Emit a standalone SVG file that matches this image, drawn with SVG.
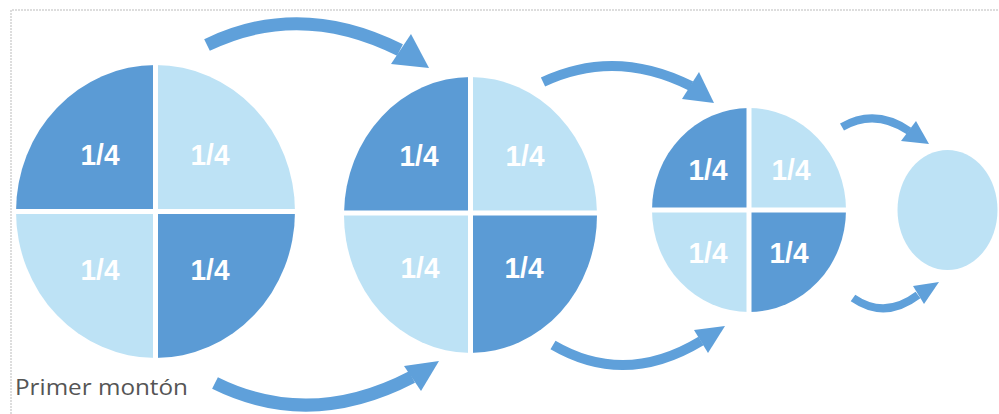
<svg xmlns="http://www.w3.org/2000/svg" width="999" height="414" viewBox="0 0 999 414">
<style>
.dk{fill:#5b9bd5}
.lt{fill:#bde2f5}
.gap{stroke:#fff;stroke-width:5}
.lbl{font-family:"Liberation Sans",Arial,sans-serif;font-weight:bold;font-size:29px;fill:#fff;text-anchor:middle}
.sh{fill:none;stroke:#5fa0da;stroke-linecap:butt}
.hd{fill:#5fa0da}
.frame{stroke:#bbbbbb;stroke-width:1;stroke-dasharray:2 1;fill:none}
.cap{font-family:"Open Sans","Noto Sans",sans-serif;font-size:21px;fill:#555}
</style>
<rect width="999" height="414" fill="#fff"/>
<path class="frame" d="M11,414 V10 H999"/>

<g id="pile1">
<path class="dk" d="M155.5,211.5 L16,211.5 A139.5,146.5 0 0 1 155.5,65 Z"/>
<path class="lt" d="M155.5,211.5 L155.5,65 A139.5,146.5 0 0 1 295,211.5 Z"/>
<path class="dk" d="M155.5,211.5 L295,211.5 A139.5,146.5 0 0 1 155.5,358 Z"/>
<path class="lt" d="M155.5,211.5 L155.5,358 A139.5,146.5 0 0 1 16,211.5 Z"/>
<path class="gap" d="M155.5,60 V362 M12,211.5 H299"/>
<text class="lbl" x="100" y="165" textLength="39" lengthAdjust="spacingAndGlyphs">1/4</text>
<text class="lbl" x="210" y="165" textLength="39" lengthAdjust="spacingAndGlyphs">1/4</text>
<text class="lbl" x="100" y="280" textLength="39" lengthAdjust="spacingAndGlyphs">1/4</text>
<text class="lbl" x="210" y="280" textLength="39" lengthAdjust="spacingAndGlyphs">1/4</text>
</g>

<g id="pile2">
<path class="dk" d="M470.5,213 L344,213 A126.5,138 0 0 1 470.5,77 Z"/>
<path class="lt" d="M470.5,213 L470.5,77 A126.5,138 0 0 1 597,213 Z"/>
<path class="dk" d="M470.5,213 L597,213 A126.5,138 0 0 1 470.5,353 Z"/>
<path class="lt" d="M470.5,213 L470.5,353 A126.5,138 0 0 1 344,213 Z"/>
<path class="gap" d="M470.5,72 V358 M340,213 H601"/>
<text class="lbl" x="419" y="166" textLength="39" lengthAdjust="spacingAndGlyphs">1/4</text>
<text class="lbl" x="525" y="166" textLength="39" lengthAdjust="spacingAndGlyphs">1/4</text>
<text class="lbl" x="420" y="278" textLength="39" lengthAdjust="spacingAndGlyphs">1/4</text>
<text class="lbl" x="524" y="278" textLength="39" lengthAdjust="spacingAndGlyphs">1/4</text>
</g>

<g id="pile3">
<path class="dk" d="M749,210 L652,210 A97,102 0 0 1 749,108 Z"/>
<path class="lt" d="M749,210 L749,108 A97,102 0 0 1 846,210 Z"/>
<path class="dk" d="M749,210 L846,210 A97,102 0 0 1 749,312 Z"/>
<path class="lt" d="M749,210 L749,312 A97,102 0 0 1 652,210 Z"/>
<path class="gap" d="M749,104 V316 M648,210 H850"/>
<text class="lbl" x="708" y="180" textLength="39" lengthAdjust="spacingAndGlyphs">1/4</text>
<text class="lbl" x="791" y="180" textLength="39" lengthAdjust="spacingAndGlyphs">1/4</text>
<text class="lbl" x="708" y="263" textLength="39" lengthAdjust="spacingAndGlyphs">1/4</text>
<text class="lbl" x="789" y="263" textLength="39" lengthAdjust="spacingAndGlyphs">1/4</text>
</g>

<g id="pile4">
<ellipse class="lt" cx="947.5" cy="210" rx="50" ry="60"/>
</g>

<g id="connectors">
<path class="sh" stroke-width="13" d="M207,45 Q300,0 400,50"/>
<polygon class="hd" points="391,64 411,34 429,68"/>
<path class="sh" stroke-width="10" d="M543,82 Q615,48 691,86"/>
<polygon class="hd" points="682,99 699,72 714,103"/>
<path class="sh" stroke-width="8" d="M842,127 Q875,108 909,131"/>
<polygon class="hd" points="901,141 916,121 929,144"/>
<path class="sh" stroke-width="13" d="M215,383 Q310,430 412,377"/>
<polygon class="hd" points="404,366 421,391 439,361"/>
<path class="sh" stroke-width="10" d="M553,345 Q625,387 701,341"/>
<polygon class="hd" points="694,330 708,353 725,326"/>
<path class="sh" stroke-width="8" d="M853,298 Q885,320 918,295"/>
<polygon class="hd" points="913,286 924,304 939,282"/>
</g>

<g id="caption">
<text class="cap" x="15" y="395" textLength="173" lengthAdjust="spacingAndGlyphs">Primer montón</text>
</g>
</svg>
